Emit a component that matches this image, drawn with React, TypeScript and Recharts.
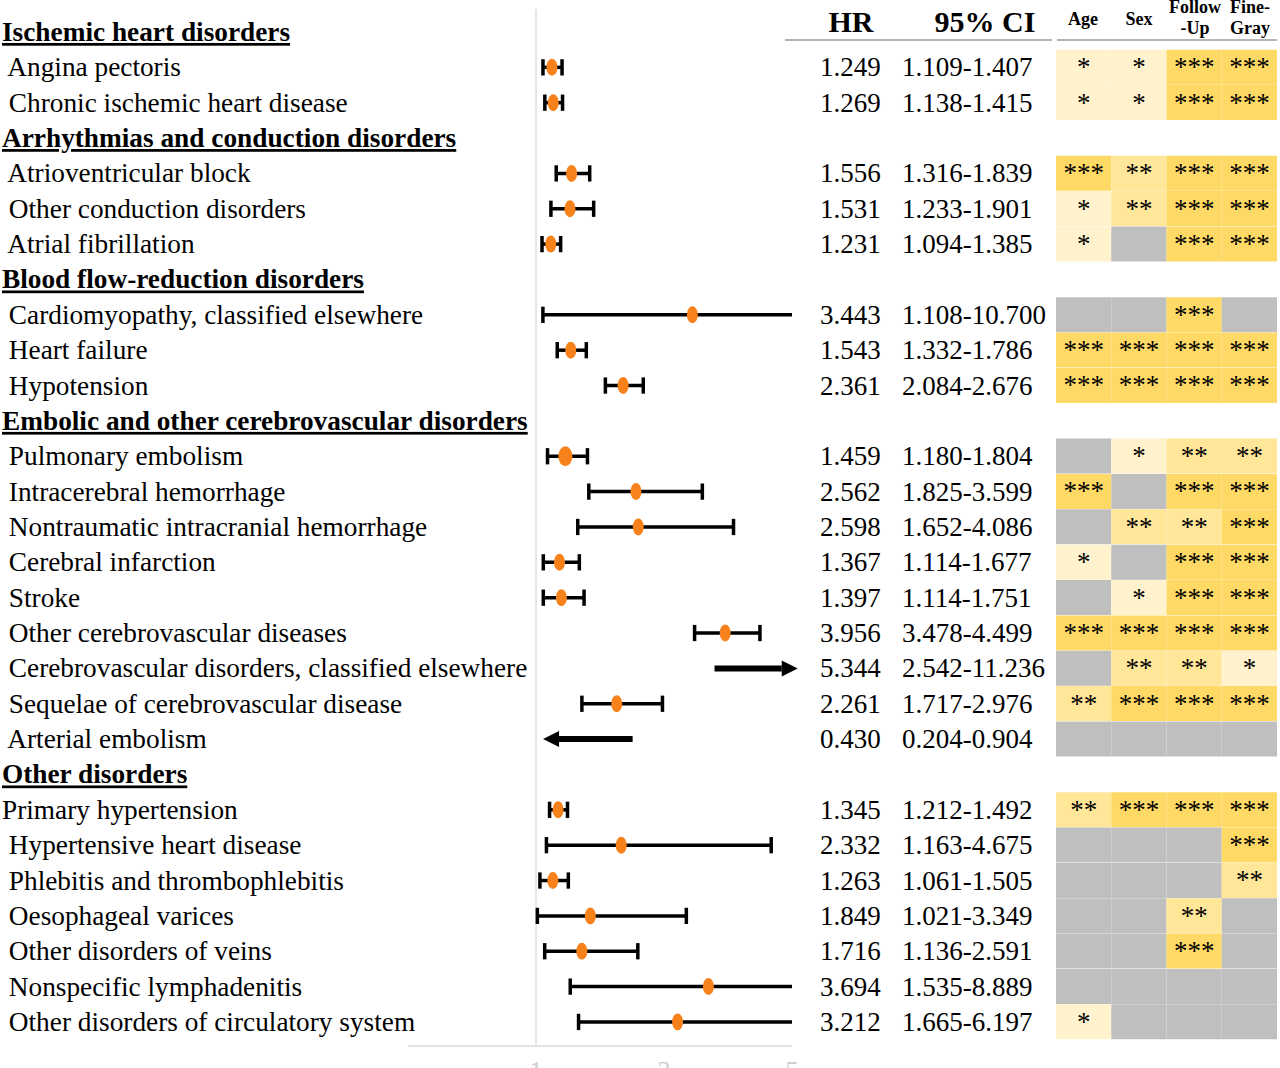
import React from 'react';
import {
  ComposedChart,
  Scatter,
  XAxis,
  YAxis,
  ReferenceLine,
  BarChart,
  Bar,
  Cell,
  LabelList,
} from 'recharts';

const FONT = "'Liberation Serif', 'Times New Roman', Times, serif";

// ---------- data ----------
const sectionHeaders = [
  'Ischemic heart disorders',
  'Arrhythmias and conduction disorders',
  'Blood flow-reduction disorders',
  'Embolic and other cerebrovascular disorders',
  'Other disorders',
];

const rowLabels = [
  'Ischemic heart disorders',
  ' Angina pectoris',
  ' Chronic ischemic heart disease',
  'Arrhythmias and conduction disorders',
  ' Atrioventricular block',
  ' Other conduction disorders',
  ' Atrial fibrillation',
  'Blood flow-reduction disorders',
  ' Cardiomyopathy, classified elsewhere',
  ' Heart failure',
  ' Hypotension',
  'Embolic and other cerebrovascular disorders',
  ' Pulmonary embolism',
  ' Intracerebral hemorrhage',
  ' Nontraumatic intracranial hemorrhage',
  ' Cerebral infarction',
  ' Stroke',
  ' Other cerebrovascular diseases',
  ' Cerebrovascular disorders, classified elsewhere',
  ' Sequelae of cerebrovascular disease',
  ' Arterial embolism',
  'Other disorders',
  'Primary hypertension',
  ' Hypertensive heart disease',
  ' Phlebitis and thrombophlebitis',
  ' Oesophageal varices',
  ' Other disorders of veins',
  ' Nonspecific lymphadenitis',
  ' Other disorders of circulatory system',
];

const hrValues: (number | null)[] = [
  null, 1.249, 1.269,
  null, 1.556, 1.531, 1.231,
  null, 3.443, 1.543, 2.361,
  null, 1.459, 2.562, 2.598, 1.367, 1.397, 3.956, 5.344, 2.261, 0.43,
  null, 1.345, 2.332, 1.263, 1.849, 1.716, 3.694, 3.212,
];

const ciLow: (number | null)[] = [
  null, 1.109, 1.138,
  null, 1.316, 1.233, 1.094,
  null, 1.108, 1.332, 2.084,
  null, 1.18, 1.825, 1.652, 1.114, 1.114, 3.478, 2.542, 1.717, 0.204,
  null, 1.212, 1.163, 1.061, 1.021, 1.136, 1.535, 1.665,
];

const ciHigh: (number | null)[] = [
  null, 1.407, 1.415,
  null, 1.839, 1.901, 1.385,
  null, 10.7, 1.786, 2.676,
  null, 1.804, 3.599, 4.086, 1.677, 1.751, 4.499, 11.236, 2.976, 0.904,
  null, 1.492, 4.675, 1.505, 3.349, 2.591, 8.889, 6.197,
];

// significance: '*', '**', '***', 'ns' (grey), null = section header row
const ageSig: (string | null)[] = [
  null, '*', '*',
  null, '***', '*', '*',
  null, 'ns', '***', '***',
  null, 'ns', '***', 'ns', '*', 'ns', '***', 'ns', '**', 'ns',
  null, '**', 'ns', 'ns', 'ns', 'ns', 'ns', '*',
];
const sexSig: (string | null)[] = [
  null, '*', '*',
  null, '**', '**', 'ns',
  null, 'ns', '***', '***',
  null, '*', 'ns', '**', 'ns', '*', '***', '**', '***', 'ns',
  null, '***', 'ns', 'ns', 'ns', 'ns', 'ns', 'ns',
];
const followUpSig: (string | null)[] = [
  null, '***', '***',
  null, '***', '***', '***',
  null, '***', '***', '***',
  null, '**', '***', '**', '***', '***', '***', '**', '***', 'ns',
  null, '***', 'ns', 'ns', '**', '***', 'ns', 'ns',
];
const fineGraySig: (string | null)[] = [
  null, '***', '***',
  null, '***', '***', '***',
  null, 'ns', '***', '***',
  null, '**', '***', '***', '***', '***', '***', '*', '***', 'ns',
  null, '***', '***', '**', 'ns', 'ns', 'ns', 'ns',
];

const xDomain = [-1, 5];
const xTicks = [1, 3, 5];

// off-scale estimates drawn as arrows (HR units)
const arrowSpans = [
  { label: ' Cerebrovascular disorders, classified elsewhere', from: 3.79, to: 5.09 },
  { label: ' Arterial embolism', from: 2.51, to: 1.11 },
];

const emphasizedMarkers = [' Pulmonary embolism'];

// ---------- derived ----------
const rowIndex = rowLabels.map((_, i) => i);
const CAP = 0.23; // half cap height, in row units

const forestPoints = rowLabels
  .map((label, i) => ({
    label,
    row: i,
    hr: hrValues[i] as number,
    lo: ciLow[i] as number,
    hi: ciHigh[i] as number,
  }))
  .filter(
    (p) =>
      hrValues[p.row] != null &&
      p.hr <= xDomain[1] &&
      p.hi >= 1 &&
      !arrowSpans.some((a) => a.label === p.label)
  );

const arrowRows = arrowSpans.map((a) => ({ ...a, row: rowLabels.indexOf(a.label) }));

const heatCols = [
  { key: 'age', sig: ageSig },
  { key: 'sex', sig: sexSig },
  { key: 'fu', sig: followUpSig },
  { key: 'fg', sig: fineGraySig },
];

const heatRows = rowIndex.map((i) => {
  const r: any = { row: i };
  heatCols.forEach((c) => {
    r[c.key] = c.sig[i];
    r[c.key + 'V'] = c.sig[i] ? 1 : null;
  });
  return r;
});

const sigColor: Record<string, string> = {
  '*': '#FFF2CC',
  '**': '#FFE699',
  '***': '#FFD966',
  ns: '#BFBFBF',
};

// ---------- renderers ----------
const RowTick = (props: any) => {
  const { y, payload } = props;
  const i = payload.value as number;
  const label = rowLabels[i];
  if (label == null) return null;
  const header = sectionHeaders.includes(label);
  const hr = hrValues[i];
  return (
    <g>
      <text
        x={2}
        y={y + 9}
        fontSize={27.3}
        fontFamily={FONT}
        fontWeight={header ? 700 : 400}
        fill="#000"
        xmlSpace="preserve"
        style={{
          whiteSpace: 'pre',
          textDecoration: header ? 'underline' : 'none',
          textDecorationThickness: header ? '2px' : undefined,
        }}
      >
        {label}
      </text>
      {hr != null && (
        <text x={820} y={y + 9} fontSize={27} fontFamily={FONT} fill="#000">
          {hr.toFixed(3)}
        </text>
      )}
      {hr != null && (
        <text x={902} y={y + 9} fontSize={27} fontFamily={FONT} fill="#000">
          {`${(ciLow[i] as number).toFixed(3)}-${(ciHigh[i] as number).toFixed(3)}`}
        </text>
      )}
    </g>
  );
};

const Marker = (props: any) => {
  const { cx, cy, payload } = props;
  if (cx == null || cy == null) return null;
  const big = payload && emphasizedMarkers.includes(payload.label);
  return <ellipse cx={cx} cy={cy} rx={big ? 7 : 5.5} ry={big ? 10 : 8.5} fill="#F7821B" />;
};

const ArrowShape = (props: any) => {
  const { x1, y1, x2, y2 } = props;
  if ([x1, y1, x2, y2].some((v) => v == null || Number.isNaN(v))) return null;
  const dir = x2 > x1 ? 1 : -1;
  const headLen = 16;
  const headHalf = 8;
  const baseX = x2 - dir * headLen;
  return (
    <g>
      <line x1={x1} y1={y1} x2={baseX} y2={y2} stroke="#000" strokeWidth={6} />
      <polygon points={`${x2},${y2} ${baseX},${y2 - headHalf} ${baseX},${y2 + headHalf}`} fill="#000" />
    </g>
  );
};

const StarLabel = (props: any) => {
  const { x, y, width, height, value } = props;
  if (!value || value === 'ns') return null;
  return (
    <text
      x={x + width / 2}
      y={y + height / 2 + 9}
      textAnchor="middle"
      fontSize={27}
      fontFamily={FONT}
      fill="#000"
    >
      {value}
    </text>
  );
};

const Headers = () => (
  <svg
    width={1280}
    height={60}
    style={{ position: 'absolute', left: 0, top: 0, pointerEvents: 'none' }}
    fontFamily={FONT}
  >
    <text x={851} y={32} fontSize={30} fontWeight={700} textAnchor="middle">HR</text>
    <text x={985} y={32} fontSize={30} fontWeight={700} textAnchor="middle">95% CI</text>
    <line x1={785} y1={40} x2={1052} y2={40} stroke="#B4B4B4" strokeWidth={2} />
    <text x={1083} y={25} fontSize={18} fontWeight={700} textAnchor="middle">Age</text>
    <text x={1139} y={25} fontSize={18} fontWeight={700} textAnchor="middle">Sex</text>
    <text x={1195} y={13} fontSize={18} fontWeight={700} textAnchor="middle">Follow</text>
    <text x={1195} y={34} fontSize={18} fontWeight={700} textAnchor="middle">-Up</text>
    <text x={1250} y={13} fontSize={18} fontWeight={700} textAnchor="middle">Fine-</text>
    <text x={1250} y={34} fontSize={18} fontWeight={700} textAnchor="middle">Gray</text>
    <line x1={1057} y1={40} x2={1277} y2={40} stroke="#B4B4B4" strokeWidth={2} />
  </svg>
);

const ciStroke = { stroke: '#000', strokeWidth: 3.5 };

export default function App() {
  return (
    <div
      style={{
        position: 'absolute',
        left: 0,
        top: 0,
        width: 1280,
        height: 1068,
        background: '#fff',
        fontFamily: FONT,
        overflow: 'hidden',
      }}
    >
      <div style={{ position: 'absolute', left: 0, top: 0 }}>
        <ComposedChart width={1280} height={1068} margin={{ top: 9, right: 488, bottom: 0, left: 0 }}>
          <XAxis
            type="number"
            dataKey="hr"
            domain={xDomain}
            ticks={xTicks}
            allowDataOverflow
            height={22}
            axisLine={{ stroke: '#D9D9D9', strokeWidth: 1.5 }}
            tickLine={false}
            tickSize={6}
            tickMargin={9}
            tick={{ fill: '#D0D0D0', fontSize: 27, fontFamily: FONT }}
          />
          <YAxis
            type="number"
            dataKey="row"
            domain={[-0.65, 28.68]}
            reversed
            allowDataOverflow
            ticks={rowIndex}
            interval={0}
            width={408}
            axisLine={false}
            tickLine={false}
            tick={RowTick}
          />
          <ReferenceLine x={1} stroke="#DEDEDE" strokeWidth={1.5} ifOverflow="visible" />
          {forestPoints.map((p) => (
            <ReferenceLine
              key={'ci' + p.row}
              segment={[
                { x: p.lo, y: p.row },
                { x: p.hi, y: p.row },
              ]}
              ifOverflow="hidden"
              {...ciStroke}
            />
          ))}
          {forestPoints.map((p) => (
            <ReferenceLine
              key={'lc' + p.row}
              segment={[
                { x: p.lo, y: p.row - CAP },
                { x: p.lo, y: p.row + CAP },
              ]}
              ifOverflow="discard"
              {...ciStroke}
            />
          ))}
          {forestPoints.map((p) => (
            <ReferenceLine
              key={'hc' + p.row}
              segment={[
                { x: p.hi, y: p.row - CAP },
                { x: p.hi, y: p.row + CAP },
              ]}
              ifOverflow="discard"
              {...ciStroke}
            />
          ))}
          {arrowRows.map((a) => (
            <ReferenceLine
              key={a.label}
              segment={[
                { x: a.from, y: a.row },
                { x: a.to, y: a.row },
              ]}
              ifOverflow="visible"
              shape={ArrowShape}
            />
          ))}
          <Scatter data={forestPoints} shape={Marker} isAnimationActive={false} />
        </ComposedChart>
      </div>
      <div style={{ position: 'absolute', left: 1056, top: 0 }}>
        <BarChart
          layout="vertical"
          width={221}
          height={1068}
          data={heatRows}
          margin={{ top: 14.32, right: 0, bottom: 28.32, left: 0 }}
          barCategoryGap={0}
          barGap={0}
        >
          <XAxis type="number" domain={[0, 4]} hide allowDataOverflow />
          <YAxis type="category" dataKey="row" hide />
          {heatCols.map((c) => (
            <Bar key={c.key} dataKey={c.key + 'V'} stackId="sig" isAnimationActive={false}>
              {heatRows.map((r, i) => (
                <Cell key={i} fill={r[c.key] ? sigColor[r[c.key]] : 'transparent'} />
              ))}
              <LabelList dataKey={c.key} content={StarLabel} />
            </Bar>
          ))}
        </BarChart>
      </div>
      <Headers />
    </div>
  );
}
